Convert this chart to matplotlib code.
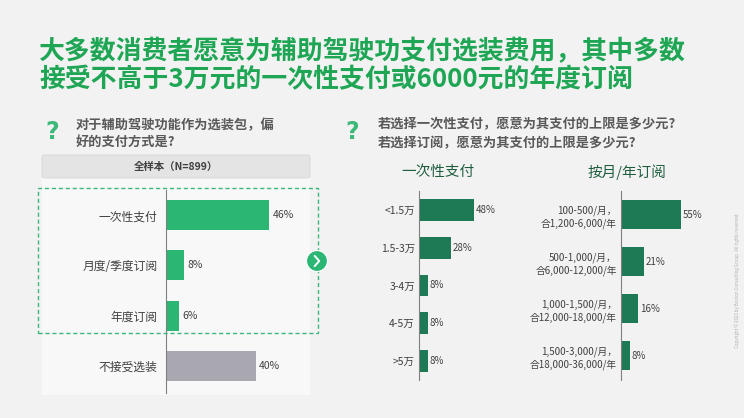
import matplotlib
matplotlib.use("Agg")
import matplotlib.pyplot as plt
from matplotlib.patches import Rectangle, FancyBboxPatch, Circle

plt.rcParams["font.family"] = ["Noto Sans CJK JP", "DejaVu Sans"]

pref_cats = ["一次性支付", "月度/季度订阅", "年度订阅", "不接受选装"]
pref_vals = [46, 8, 6, 40]
once_cats = ["<1.5万", "1.5-3万", "3-4万", "4-5万", ">5万"]
once_vals = [48, 28, 8, 8, 8]
sub_cats = ["100-500/月，\n合1,200-6,000/年", "500-1,000/月，\n合6,000-12,000/年",
            "1,000-1,500/月，\n合12,000-18,000/年", "1,500-3,000/月，\n合18,000-36,000/年"]
sub_vals = [55, 21, 16, 8]

W, H = 744, 418
BG = "#f2f2f2"
GREEN = "#2bb673"
DARK = "#1e7a55"
GRAY = "#a9a8b0"
TITLE = "#1fa655"

fig = plt.figure(figsize=(W/100, H/100), dpi=100, facecolor=BG)

def fx(x): return x / W
def fy(y): return 1 - y / H

# title
fig.text(fx(39), fy(52), "大多数消费者愿意为辅助驾驶功支付选装费用，其中多数", color=TITLE,
         fontsize=18.6, fontweight="bold", va="center")
fig.text(fx(39), fy(80), "接受不高于3万元的一次性支付或6000元的年度订阅", color=TITLE,
         fontsize=18.6, fontweight="bold", va="center")

# question marks & questions
for x in (52, 352):
    fig.text(fx(x), fy(132), "?", color="#3cb878", fontsize=17, fontweight="bold",
             va="center", ha="center", family="DejaVu Sans")
fig.text(fx(76), fy(125), "对于辅助驾驶功能作为选装包，偏", fontsize=9.5,
         fontweight="bold", color="#595959", va="center")
fig.text(fx(76), fy(142), "好的支付方式是?", fontsize=9.5,
         fontweight="bold", color="#595959", va="center")
fig.text(fx(378), fy(124), "若选择一次性支付，愿意为其支付的上限是多少元?", fontsize=9.5,
         fontweight="bold", color="#595959", va="center")
fig.text(fx(378), fy(143), "若选择订阅，愿意为其支付的上限是多少元?", fontsize=9.5,
         fontweight="bold", color="#595959", va="center")

# left panel background
fig.add_artist(Rectangle((fx(42), fy(395)), fx(268), (395-178)/H, transform=fig.transFigure,
                         facecolor="#f8f8f8", edgecolor="none", zorder=0))
fig.add_artist(FancyBboxPatch((fx(42), fy(178)), fx(268), 23/H, transform=fig.transFigure,
                              boxstyle="round,pad=0,rounding_size=0.005",
                              facecolor="#e4e4e4", edgecolor="#d6d6d6", lw=0.6, zorder=0))
fig.text(fx(176), fy(167), "全样本（N=899）", fontsize=7.5, fontweight="bold",
         color="#404040", ha="center", va="center")
fig.add_artist(Rectangle((fx(38), fy(333)), fx(280), (333-188)/H, transform=fig.transFigure,
                         facecolor="none", edgecolor="#3cb878", lw=1, ls=(0, (3, 2)), zorder=5))
ax_c = fig.add_axes([fx(306), fy(272), 22/W, 22/H])
ax_c.set_zorder(6)
ax_c.axis("off")
ax_c.set_xlim(-1, 1); ax_c.set_ylim(-1, 1)
ax_c.add_patch(Circle((0, 0), 0.95, facecolor="#2bb673", edgecolor="white", lw=0.8))
ax_c.plot([-0.2, 0.2, -0.2], [0.45, 0, -0.45], color="white", lw=1.4)

def make_axes(x0, x1, y0, y1):
    ax = fig.add_axes([fx(x0), fy(y1), (x1-x0)/W, (y1-y0)/H])
    ax.set_zorder(3)
    ax.set_facecolor("none")
    for s in ("top", "right", "bottom"):
        ax.spines[s].set_visible(False)
    ax.spines["left"].set_color("#808080")
    ax.spines["left"].set_linewidth(0.8)
    ax.set_xticks([])
    ax.tick_params(axis="y", length=0, colors="#404040")
    return ax

# left chart
ax = make_axes(166, 300, 190, 393)
cols = [GREEN, GREEN, GREEN, GRAY]
ax.barh(range(4), pref_vals, height=0.6, color=cols)
ax.set_ylim(3.54, -0.5)
ax.set_xlim(0, 134/2.24)
ax.set_yticks(range(4))
ax.set_yticklabels(pref_cats, fontsize=8.5)
ax.tick_params(axis="y", pad=6)
for i, v in enumerate(pref_vals):
    ax.text(v + 1.5, i, f"{v}%", fontsize=7.5, va="center", color="#404040")

# one-time chart
fig.text(fx(438), fy(172), "一次性支付", fontsize=10.5, color="#1e5e3e", ha="center", va="center")
ax2 = make_axes(419, 520, 191, 380)
ax2.barh(range(5), once_vals, height=0.58, color=DARK)
ax2.set_ylim(4.5, -0.5)
ax2.set_xlim(0, 101/1.146)
ax2.set_yticks(range(5))
ax2.set_yticklabels(once_cats, fontsize=7.5)
ax2.tick_params(axis="y", pad=3)
for i, v in enumerate(once_vals):
    ax2.text(v + 1.5, i, f"{v}%", fontsize=7, va="center", color="#404040")

# subscription chart
fig.text(fx(627), fy(172), "按月/年订阅", fontsize=10.5, color="#1e5e3e", ha="center", va="center")
ax3 = make_axes(621, 720, 191, 380)
ax3.barh(range(4), sub_vals, height=0.62, color=DARK)
ax3.set_ylim(3.52, -0.5)
ax3.set_xlim(0, 99/1.09)
ax3.set_yticks(range(4))
ax3.set_yticklabels(sub_cats, fontsize=7, linespacing=1.3)
ax3.tick_params(axis="y", pad=3)
for i, v in enumerate(sub_vals):
    ax3.text(v + 1.5, i, f"{v}%", fontsize=7, va="center", color="#404040")

fig.text(fx(737), fy(280), "Copyright © 2023 by Boston Consulting Group. All rights reserved.",
         fontsize=3.2, color="#b0b0b0", rotation=90, ha="center", va="center")

fig.savefig("out.png", dpi=100, facecolor=BG)
